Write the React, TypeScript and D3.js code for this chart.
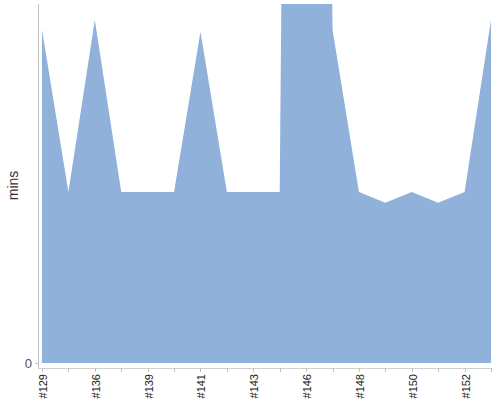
import React from "react";
import * as d3 from "d3";

const builds = ["#129", "#135", "#136", "#138", "#139", "#140", "#141", "#142", "#143", "#145", "#146", "#147", "#148", "#149", "#150", "#151", "#152", "#153"];
const minutes = [31.2, 16, 32.1, 16, 16, 16, 31, 16, 16, 16, 300, 31.2, 16, 15, 16, 15, 16, 32.1];
const yMax = 33.6;
const yTicks = [0];

export default function App() {
  const W = 500, H = 400;
  const left = 42, right = 491, top = 4, bottom = 363;
  const x = d3.scalePoint<string>().domain(builds).range([left, right]);
  const y = d3.scaleLinear().domain([0, yMax]).range([bottom, top]);
  const area = d3.area<number>()
    .x((_, i) => x(builds[i]) as number)
    .y0(y(0))
    .y1((d) => y(d));
  const axisY = 368;
  return (
    <svg width={W} height={H} style={{ position: "absolute", left: 0, top: 0, fontFamily: "Liberation Sans, Arial, sans-serif" }}>
      <defs>
        <clipPath id="plot">
          <rect x={left - 1} y={top} width={right - left + 2} height={bottom - top} />
        </clipPath>
      </defs>
      <path d={area(minutes) ?? ""} fill="#8fb1da" clipPath="url(#plot)" />
      {/* y axis */}
      <line x1={38.5} x2={38.5} y1={top} y2={axisY} stroke="#c0c0c0" strokeWidth={1} />
      {yTicks.map((t) => (
        <g key={t}>
          <line x1={35} x2={38.5} y1={y(t) + 0.5} y2={y(t) + 0.5} stroke="#c0c0c0" />
          <text x={32} y={y(t)} dy="0.35em" textAnchor="end" fontSize={13} fill="#555">{t}</text>
        </g>
      ))}
      <text transform={`translate(18,${(top + bottom) / 2 + 2}) rotate(-90)`} textAnchor="middle" fontSize={14} fill="#333">mins</text>
      {/* x axis */}
      <line x1={38} x2={right + 1} y1={axisY + 0.5} y2={axisY + 0.5} stroke="#d0d0d0" />
      {builds.map((b, i) => {
        const px = Math.round(x(b) as number) + 0.5;
        return (
          <g key={b}>
            <line x1={px} x2={px} y1={axisY} y2={axisY + 4} stroke="#c0c0c0" />
            {i % 2 === 0 && (
              <text transform={`translate(${px + 4},${axisY + 6}) rotate(-90)`} textAnchor="end" fontSize={11} fill="#222">{b}</text>
            )}
          </g>
        );
      })}
    </svg>
  );
}
